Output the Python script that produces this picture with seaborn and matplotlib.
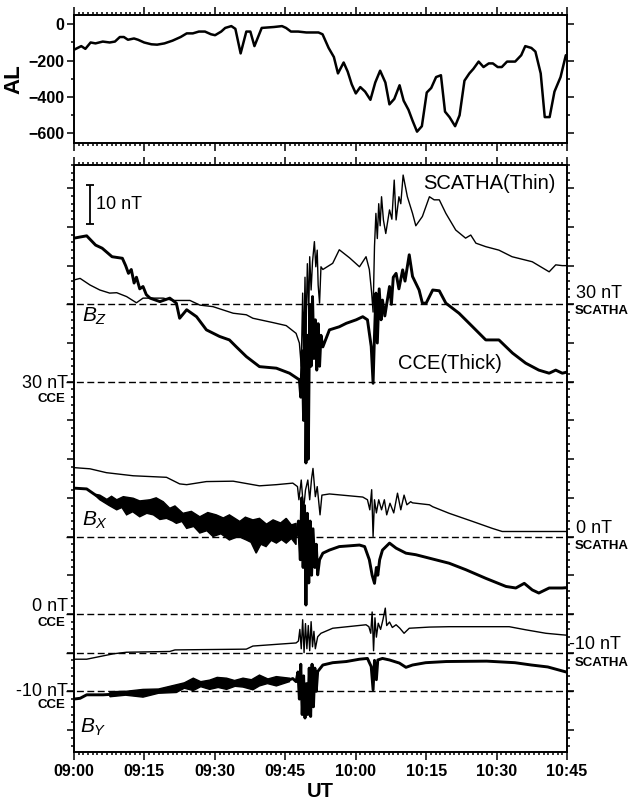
import numpy as np
import matplotlib
matplotlib.use("Agg")
import matplotlib.pyplot as plt
import matplotlib.transforms as mtransforms
from matplotlib.ticker import MultipleLocator
import seaborn as sns

# ==========================================
# DATA  (time = minutes after 09:00 UT)
# ==========================================
time_ticks = [0, 15, 30, 45, 60, 75, 90, 105]
time_labels = ["09:00", "09:15", "09:30", "09:45", "10:00", "10:15", "10:30", "10:45"]

# AL index (nT)
al_t = [0, 1.55, 2.42, 3.54, 4.58, 6.13, 7.6, 8.72, 9.76, 10.62, 11.49, 12.78, 13.64, 14.94,
        16.49, 17.7, 19.26, 20.98, 22.71, 24.01, 25.3, 26.6, 27.89, 29.19, 30.05, 31.35, 32.21,
        33.51, 34.37, 35.49, 36.7, 37.56, 38.43, 39.98, 42.57, 44.3, 45.16, 46.2, 47.75, 49.48,
        52.07, 52.94, 54.23, 55.35, 56.22, 57.43, 58.29, 59.15, 60.02, 60.97, 62.0, 63.13, 64.16,
        65.2, 66.32, 67.18, 68.22, 69.34, 70.21, 71.24, 72.11, 73.06, 74.09, 75.13, 76.08, 77.12,
        78.15, 79.02, 79.97, 81.17, 82.12, 83.16, 84.2, 85.06, 86.18, 87.22, 88.34, 89.21, 90.24,
        91.11, 92.23, 93.96, 95.25, 96.11, 97.41, 98.27, 99.4, 100.26, 101.3, 102.33, 103.63, 104.75]
al = [-140, -120, -135, -100, -105, -95, -100, -95, -70, -70, -85, -78, -85, -100,
      -110, -112, -105, -90, -70, -50, -50, -40, -40, -55, -60, -40, -20,
      -10, -25, -160, -40, -40, -120, -20, -15, -10, -20, -40, -40, -45,
      -45, -55, -130, -180, -270, -210, -260, -330, -380, -345, -370, -415, -320,
      -255, -320, -440, -410, -335, -420, -470, -530, -590, -560, -375, -350, -290,
      -280, -480, -510, -560, -500, -310, -270, -245, -205, -235, -215, -215, -235,
      -235, -205, -205, -170, -120, -130, -150, -270, -510, -510, -370, -290, -170]

# Bz (nT): SCATHA thin, CCE thick
bz_scatha = [(0, 36.3), (1.3, 36.7), (3.4, 35.0), (5.5, 33.7), (7.6, 32.9), (9.1, 33.0), (11.2, 32.0),
             (13.3, 30.4), (14.7, 31.6), (16.9, 31.6), (19.0, 31.6), (21.1, 31.0), (24.7, 31.0),
             (26.8, 29.8), (29.6, 29.4), (33.9, 27.7), (36.7, 27.3), (38.1, 26.4), (42.3, 25.3),
             (45.2, 24.5), (47.3, 22.5), (48.0, 20.0), (48.4, 14), (48.7, 32.9), (48.9, 16), (49.2, 37),
             (49.4, 22), (49.7, 40.5), (50.0, 28), (50.2, 42.3), (50.5, 33.7), (50.8, 41), (51.2, 46.2),
             (51.5, 39.7), (51.8, 44), (52.0, 35), (52.3, 30.3), (52.6, 39.7), (53.0, 39), (55.1, 40.6),
             (56.5, 44.1), (58.7, 42), (60.8, 39.7), (62.2, 42.3), (62.9, 39), (63.4, 32.9), (63.7, 28),
             (64.0, 45), (64.3, 53.5), (64.6, 47), (64.9, 56), (65.2, 50.3), (65.5, 57.8), (65.9, 51.8),
             (66.4, 48.3), (67.2, 54.4), (67.7, 52), (68.2, 62.1), (68.6, 51.8), (69.2, 57.8), (69.6, 56),
             (70.1, 63.4), (71.0, 57.8), (72.1, 53.5), (72.8, 50.3), (74.2, 52.7), (75.7, 57.8), (76.7, 57),
             (77.8, 57), (79.2, 53.5), (81.3, 49.2), (83.4, 47.1), (84.5, 47.9), (85.6, 45.8), (87.7, 44.9),
             (90.5, 44), (93.3, 42.3), (97.6, 41), (101.2, 38.4), (102.6, 40.2), (104, 40), (105, 40)]
bz_cce = [(0, 67.1), (2.7, 67.7), (4.6, 65.3), (6.0, 64.5), (8.1, 62.3), (10.3, 61.9), (11.0, 60),
          (11.6, 58), (12.2, 59), (12.8, 55.5), (13.3, 57), (14.0, 54), (14.7, 54.6), (15.4, 52.5),
          (16.2, 51.6), (18.3, 50.7), (20.4, 51.6), (21.8, 50.3), (22.5, 46.4), (24.0, 48.6),
          (26.1, 46.8), (28.2, 43.4), (31.0, 41.7), (33.1, 40.8), (34.5, 39.1), (36.7, 36.5),
          (39.5, 33.9), (43.1, 33.5), (45.9, 32.2), (48.0, 30.5), (48.3, 26), (48.6, 38), (48.9, 20),
          (49.2, 48), (49.4, 9), (49.7, 42), (49.9, 10), (50.2, 50), (50.5, 34), (50.8, 52), (51.1, 36),
          (51.4, 46), (51.7, 33), (52.0, 45), (52.3, 34), (52.6, 42), (53.0, 39), (54.4, 43.4),
          (56.5, 44.2), (58.0, 45.1), (60.1, 46), (61.5, 46.8), (62.5, 46), (63.3, 39.1), (63.7, 29.6),
          (64.0, 42), (64.3, 52.9), (64.6, 40), (65.0, 54), (65.4, 46), (65.7, 51.1), (66.2, 47),
          (67.2, 54.6), (67.6, 50), (68.0, 57), (68.6, 58), (69.2, 54), (70.0, 58.9), (70.5, 56),
          (71.4, 62.8), (72.1, 57.2), (73.5, 53.7), (74.2, 50.3), (75.0, 50.3), (76.4, 53.7),
          (77.8, 53.5), (79.2, 50.3), (82.0, 47.7), (84.9, 44.2), (87.7, 40.8), (90.5, 40.8),
          (93.4, 37.4), (96.2, 34.8), (99.0, 33), (101.2, 32.2), (102.6, 33), (104, 32.2), (105, 32.5)]

# Bx (nT)
bx_scatha = [(0, 17.8), (3.4, 17.5), (6.9, 16.5), (12.6, 15.7), (19.7, 15.3), (22.5, 13.6), (24.0, 13.4),
             (28.2, 14.2), (33.9, 14.3), (39.5, 13.1), (43.1, 13.4), (46.6, 13.8), (47.6, 12.9),
             (47.9, 9.5), (48.4, 14.6), (48.9, 6.9), (49.3, 12), (49.8, 14.6), (50.2, 9.5), (50.6, 15),
             (50.9, 17.6), (51.4, 10.3), (51.8, 12.9), (52.4, 5.6), (52.8, 10.7), (54.4, 11), (61.5, 10.2),
             (62.5, 9.5), (63.0, 6.9), (63.4, 12.1), (63.7, 0), (64.0, 9.5), (64.4, 6.1), (64.9, 9.5),
             (65.5, 6.9), (66.1, 9.5), (66.6, 5.6), (67.3, 8.6), (68.1, 6.1), (68.9, 11.2), (69.6, 6.9),
             (70.3, 10.7), (70.9, 8.2), (71.7, 9), (72.1, 8.7), (75.7, 8.2), (76.4, 7.7), (79.9, 6),
             (84.9, 3.9), (89.1, 2.1), (91.2, 1.3), (97.6, 1.3), (105, 1.3)]
bx_cce_start = [(0, 32.5), (2.7, 32.3), (4.6, 30.7)]
bx_cce_upper = [(4.6, 30.9), (5.5, 30.7), (7.0, 29.6), (8.0, 30.4), (9.1, 29.5), (10.5, 30.3), (12.6, 29.9),
                (14.0, 29.2), (16.2, 29.5), (17.5, 30.0), (19.0, 29.0), (20.4, 27.3), (21.5, 27.9),
                (23.2, 26.0), (25.0, 26.5), (26.8, 25.1), (28.5, 26.2), (30.3, 25.6), (31.8, 24.8),
                (33.1, 25.6), (35.3, 23.9), (36.5, 25.0), (38.1, 24.3), (39.5, 24.7), (41.0, 23.2),
                (42.4, 24.3), (44.0, 23.5), (45.2, 24.7), (46.3, 23.0), (47.3, 23.4)]
bx_cce_lower = [(4.6, 30.5), (5.5, 29.5), (7.5, 28.0), (9.1, 26.9), (10.2, 27.5), (11.2, 25.6), (12.5, 26.4),
                (14.0, 25.1), (15.5, 26.0), (16.9, 25.6), (18.3, 24.4), (19.7, 24.7), (21.0, 24.0),
                (21.8, 23.4), (23.0, 23.9), (24.0, 22.1), (25.5, 22.6), (26.8, 20.9), (28.3, 21.5),
                (29.6, 20.0), (31.3, 20.7), (33.1, 19.1), (35.0, 20.0), (36.7, 19.1), (37.7, 18.5),
                (38.8, 15.7), (39.8, 18.0), (40.9, 17.4), (42.0, 19.0), (43.1, 18.3), (44.2, 19.2),
                (45.2, 18.3), (46.3, 19.5), (47.3, 17.9)]
bx_cce = [(47.3, 20), (47.8, 24), (48.2, 14), (48.5, 30), (48.8, 12), (49.1, 28), (49.4, 2.3), (49.7, 26),
          (50.0, 8), (50.3, 24), (50.6, 10), (50.9, 22), (51.3, 12), (51.6, 18), (51.9, 10.1), (52.3, 14),
          (53.0, 15.7), (54.4, 16.5), (56.5, 17.4), (58.7, 17.6), (60.8, 17.8), (61.9, 17.4), (62.9, 14),
          (63.5, 10), (64.0, 7.9), (64.4, 12), (64.7, 10), (65.1, 14), (65.7, 16.5), (67.2, 18.3),
          (68.6, 17), (70.7, 15.7), (72.8, 15.3), (75.7, 14.4), (79.9, 13.1), (83.5, 11.4), (87.7, 9.2),
          (92.0, 7.1), (94.1, 6.7), (95.9, 7.9), (97.6, 6.2), (99.0, 5.4), (101.2, 6.7), (104, 6.7),
          (105, 6.8)]

# By (nT)
by_scatha = [(0, -11.7), (2.7, -11.7), (8.4, -10.3), (11.2, -9.9), (20.4, -9.7), (21.5, -9.3), (36.7, -9.1),
             (38.1, -8.3), (43.8, -7.8), (47.3, -7.5), (47.8, -7), (48.1, -4), (48.4, -9), (48.7, -1.5),
             (49.0, -10), (49.3, -2.5), (49.6, -9), (49.9, -3), (50.2, -9.5), (50.5, -2), (50.8, -8.5),
             (51.1, -4.5), (51.4, -9), (51.9, -5.9), (52.6, -5), (55.1, -3.7), (62.2, -2.8), (62.8, -3.3),
             (63.2, -5), (63.5, 0.5), (63.8, -9.5), (64.1, -1), (64.4, -6), (64.8, -2.4), (65.3, -4),
             (65.8, -1.5), (66.3, 1.5), (66.6, -3), (67.2, -2.1), (67.8, -3.5), (68.6, -2.8), (69.4, -3.7),
             (70.3, -5), (71.4, -3.7), (75.7, -3.4), (79.9, -3.3), (92.7, -3.3), (96.2, -4.1), (100.5, -5),
             (104, -5.4), (105, -5.5)]
by_cce_start = [(0, -12), (1.3, -11.8), (2.7, -10.9), (6.2, -10.9), (7.65, -10.8)]
by_cce_upper = [(7.65, -10.1), (11.0, -10.0), (14.7, -9.5), (18.0, -9.4), (21.8, -8.3), (23.5, -7.8),
                (25.4, -6.6), (27.0, -7.5), (28.9, -7.1), (30.5, -6.4), (32.5, -6.6), (34.2, -7.2),
                (36.0, -6.6), (37.8, -7.0), (39.5, -5.8), (41.3, -6.8), (43.1, -6.2), (45.9, -6.6)]
by_cce_lower = [(7.65, -11.4), (11.0, -11.0), (14.7, -11.5), (18.0, -10.5), (21.8, -10.3), (23.5, -9.2),
                (25.4, -9.8), (27.0, -8.8), (28.9, -9.5), (30.7, -9.0), (32.5, -9.5), (34.3, -8.7),
                (36.0, -8.9), (38.1, -9.6), (39.5, -8.6), (41.2, -8.0), (43.1, -8.6), (45.9, -7.5)]
by_cce = [(45.9, -7), (46.6, -6.7), (47.3, -7.5), (47.7, -5), (48.0, -12), (48.3, -3), (48.6, -16),
          (48.9, -6), (49.2, -16.9), (49.5, -8), (49.8, -16), (50.1, -4), (50.4, -16.5), (50.7, -3),
          (51.0, -14), (51.3, -4), (51.6, -10), (51.9, -4.9), (53.0, -3.2), (55.1, -2.6), (58.0, -2.3),
          (60.8, -1.7), (62.5, -1.5), (63.3, -3.6), (63.7, -9.6), (64.0, -2), (64.4, -7), (64.7, -1.9),
          (65.7, -1.5), (67.2, -1.9), (69.3, -2.7), (70.7, -3.8), (72.1, -3.2), (74.9, -2.6), (79.3, -2.3),
          (87.9, -2.2), (93.9, -2.6), (97.4, -3.2), (100.9, -3.7), (104.8, -5.0), (105, -5.0)]

# reference levels (nT) marked with dashed lines
ref_levels = {"bz_s": 30, "bz_c": 30, "bx_s": 0, "bx_c": 0, "by_s": -10, "by_c": -10}

# vertical stacking offsets used for plotting
OFF = {"bz_s": 90, "bz_c": 70, "bx_s": 60, "bx_c": 40, "by_s": 40, "by_c": 30}

# ==========================================
# STYLE
# ==========================================
sns.set_style("ticks")
plt.rcParams["font.family"] = ["Liberation Sans", "DejaVu Sans"]
plt.rcParams["mathtext.fontset"] = "custom"
plt.rcParams["mathtext.it"] = "Liberation Sans:italic"
plt.rcParams["mathtext.rm"] = "Liberation Sans"
plt.rcParams.update({"text.color": "black", "axes.labelcolor": "black",
                     "xtick.color": "black", "ytick.color": "black", "axes.edgecolor": "black"})

fig = plt.figure(figsize=(6.33, 8.02), dpi=100)
ax1 = fig.add_axes([74 / 633, 1 - 143.3 / 802, 493 / 633, 128.3 / 802])
ax2 = fig.add_axes([74 / 633, 1 - 751.7 / 802, 493 / 633, 586.7 / 802])


def trace(ax, pts, off, lw):
    arr = np.array(pts, dtype=float)
    sns.lineplot(x=arr[:, 0], y=arr[:, 1] + off, ax=ax, color="black", linewidth=lw,
                 estimator=None, sort=False)


def band(ax, up, lo, off):
    u = np.array(up, dtype=float)
    l = np.array(lo, dtype=float)
    xs = np.r_[u[:, 0], l[::-1, 0]]
    ys = np.r_[u[:, 1], l[::-1, 1]] + off
    ax.fill(xs, ys, facecolor="black", linewidth=1.0, edgecolor="black")


# ---- AL panel ----
sns.lineplot(x=al_t, y=al, ax=ax1, color="black", linewidth=1.8, estimator=None, sort=False)
ax1.set_xlim(0, 105)
ax1.set_ylim(-654, 51)
ax1.set_yticks([0, -200, -400, -600])
ax1.yaxis.set_minor_locator(MultipleLocator(100))
ax1.set_ylabel("AL", fontsize=16, fontweight="bold")
ax1.yaxis.set_label_coords(-0.101, 0.5)

# ---- magnetic field panel ----
thin, thick = 1.0, 2.1
trace(ax2, bz_scatha, OFF["bz_s"], thin)
trace(ax2, bz_cce, OFF["bz_c"], thick)
trace(ax2, bx_scatha, OFF["bx_s"], thin)
trace(ax2, bx_cce_start, OFF["bx_c"], thick)
band(ax2, bx_cce_upper, bx_cce_lower, OFF["bx_c"])
trace(ax2, bx_cce, OFF["bx_c"], thick)
trace(ax2, by_scatha, OFF["by_s"], thin)
trace(ax2, by_cce_start, OFF["by_c"], thick)
band(ax2, by_cce_upper, by_cce_lower, OFF["by_c"])
trace(ax2, by_cce, OFF["by_c"], thick)

for k, lev in ref_levels.items():
    ax2.plot([-1.6, 106.3], [lev + OFF[k]] * 2, color="black", lw=1.0,
             ls=(0, (5, 2.5)), clip_on=False)

ax2.set_xlim(0, 105)
ax2.set_ylim(4.4, 156)
ax2.yaxis.set_major_locator(MultipleLocator(10))
ax2.yaxis.set_minor_locator(MultipleLocator(2))
ax2.set_xlabel("UT", fontsize=14.5, fontweight="bold", labelpad=2)
ax2.set_ylabel("")

# 10 nT scale bar
ax2.errorbar([3.4], [145.8], yerr=[5], color="black", capsize=3, elinewidth=1.3, capthick=1.3)
ax2.text(4.6, 145.8, "10 nT", fontsize=13, va="center", ha="left")
ax2.text(74.4, 151.3, "SCATHA(Thin)", fontsize=14.5, va="center", ha="left")
ax2.text(69.1, 104.8, "CCE(Thick)", fontsize=14.5, va="center", ha="left")
ax2.text(1.7, 116.8, r"$B_Z$", fontsize=15, va="center", ha="left")
ax2.text(1.7, 64.1, r"$B_X$", fontsize=15, va="center", ha="left")
ax2.text(1.3, 10.7, r"$B_Y$", fontsize=15, va="center", ha="left")

tr = mtransforms.blended_transform_factory(ax2.transAxes, ax2.transData)
# left (CCE) level labels
for lab, yv, ysub in [("30 nT", 99.6, 95.6), ("0 nT", 41.9, 37.6), ("-10 nT", 20.0, 16.4)]:
    ax2.text(-0.012, yv, lab, transform=tr, fontsize=13, ha="right", va="center")
    ax2.text(-0.018, ysub, "CCE", transform=tr, fontsize=9.5, fontweight="bold", ha="right", va="center")
# right (SCATHA) level labels
for lab, xv, yv, ysub in [("30 nT", 1.018, 122.7, 118.4), ("0 nT", 1.018, 62.2, 57.6),
                          ("-10 nT", 1.004, 32.0, 27.4)]:
    ax2.text(xv, yv, lab, transform=tr, fontsize=13, ha="left", va="center")
    ax2.text(1.016, ysub, "SCATHA", transform=tr, fontsize=9.5, fontweight="bold", ha="left", va="center")

# ---- ticks / spines ----
for ax in (ax1, ax2):
    ax.set_xticks(time_ticks)
    ax.xaxis.set_minor_locator(MultipleLocator(1))
    ax.tick_params(which="both", direction="out", top=True, right=True, width=1.1, color="black")
    ax.tick_params(axis="x", which="major", length=6)
    ax.tick_params(axis="x", which="minor", length=2.5)
    ax.tick_params(axis="y", which="major", length=5)
    ax.tick_params(axis="y", which="minor", length=2.5)
    for s in ax.spines.values():
        s.set_linewidth(1.4)
        s.set_visible(True)

ax1.tick_params(axis="x", labelbottom=False)
ax1.tick_params(axis="y", labelsize=11.5, pad=2)
for t in ax1.get_yticklabels():
    t.set_fontweight("bold")
ax2.set_xticklabels(time_labels)
ax2.tick_params(axis="x", labelsize=11.5, pad=3)
for t in ax2.get_xticklabels():
    t.set_fontweight("bold")
ax2.tick_params(axis="y", labelleft=False, labelright=False)
ax1.set_xlabel("")

fig.savefig("out.png", dpi=100)
